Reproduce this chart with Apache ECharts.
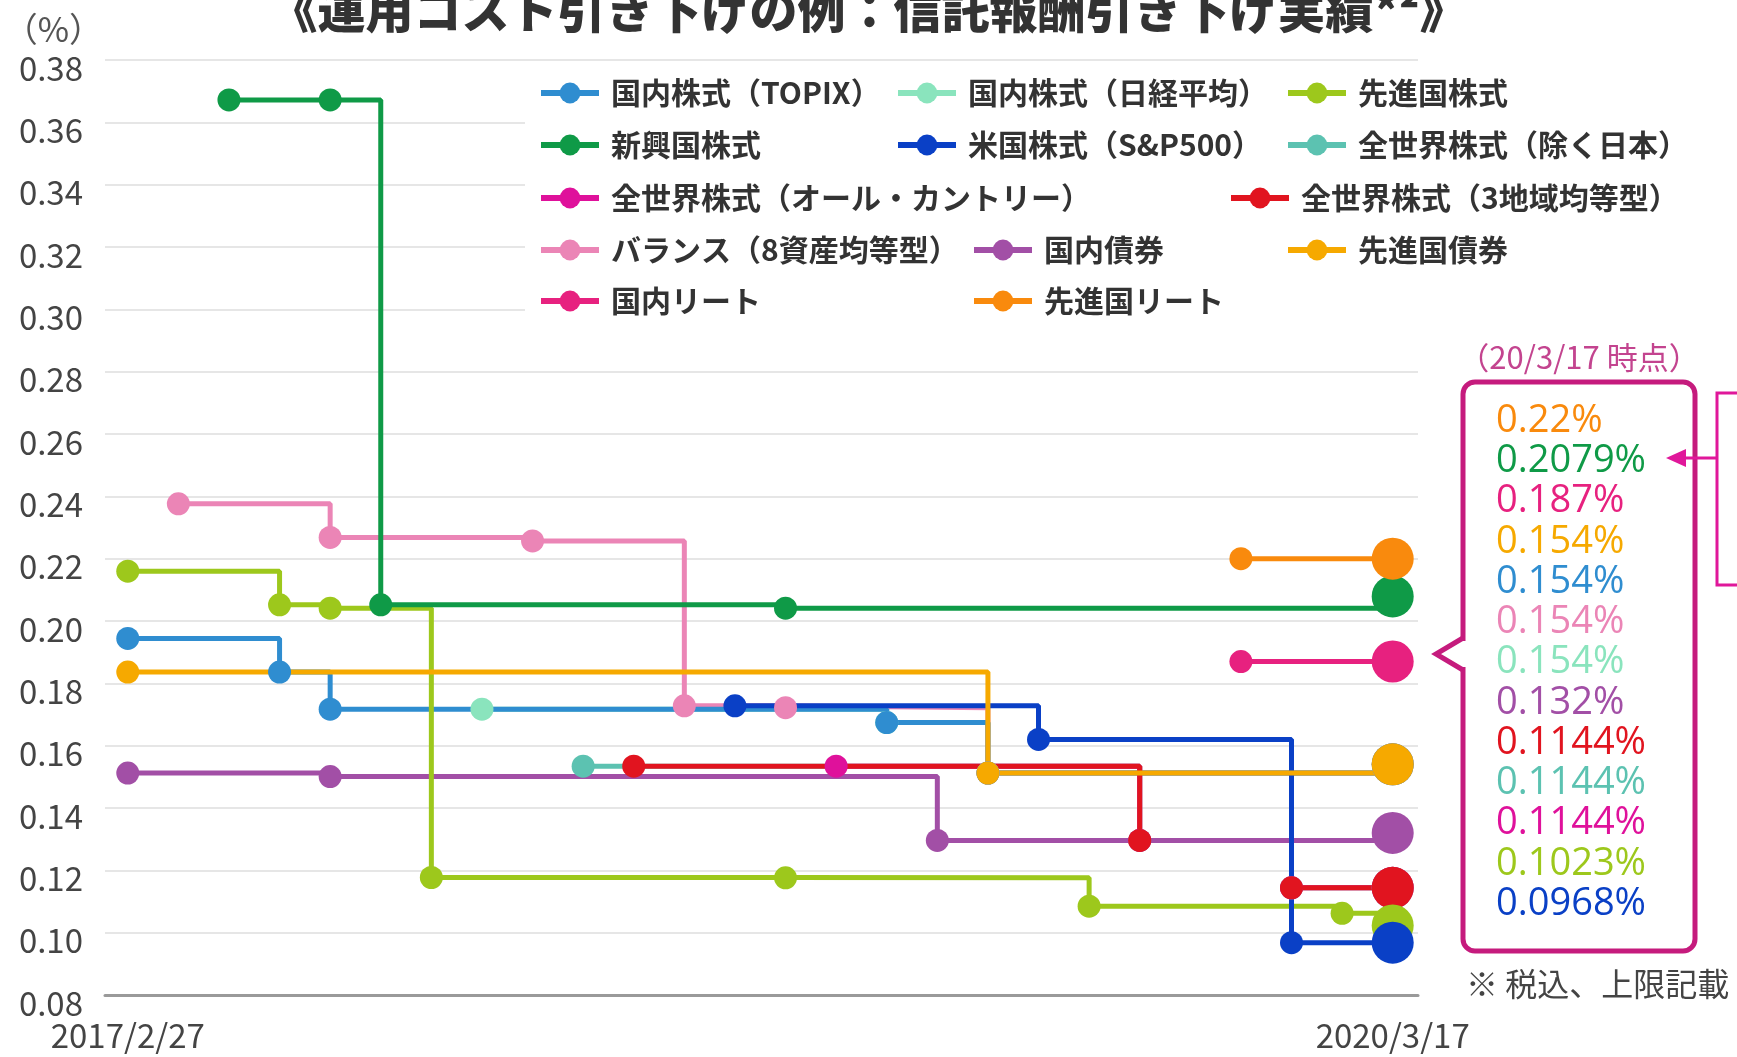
<!DOCTYPE html>
<html>
<head>
<meta charset="utf-8">
<title>信託報酬引き下げ実績</title>
<script src="https://cdn.jsdelivr.net/npm/echarts@6/dist/echarts.min.js"></script>
<style>
html, body { margin: 0; padding: 0; background: #fff; }
#main { width: 1737px; height: 1057px; }
</style>
</head>
<body>
<div id="main"></div>
<script>
// 横軸は引き下げ時点の通し番号 (0 = 2017/2/27 ... 25 = 2020/3/17)
const xTickIndex = [0, 25];
const xTickLabels = ['2017/2/27', '2020/3/17'];

// 各ファンドの信託報酬 (%)  [時点, 値]
const topix = [[0, 0.1944], [3, 0.1836], [4, 0.1717], [15, 0.1674], [17, 0.1512], [25, 0.154]];
const nikkei = [[7, 0.1717], [15, 0.1674], [17, 0.1512], [25, 0.154]];
const devStock = [[0, 0.216], [3, 0.2052], [4, 0.2041], [6, 0.1177], [13, 0.1176], [19, 0.1085], [24, 0.1062], [25, 0.1023]];
const emerging = [[2, 0.3672], [4, 0.3672], [5, 0.2052], [13, 0.2041], [25, 0.2079]];
const sp500 = [[12, 0.1728], [18, 0.162], [23, 0.0968], [25, 0.0968]];
const acwiExJp = [[9, 0.1534], [20, 0.1296], [23, 0.1144], [25, 0.1144]];
const acwi = [[14, 0.1534], [20, 0.1296], [23, 0.1144], [25, 0.1144]];
const threeRegion = [[10, 0.1534], [20, 0.1296], [23, 0.1144], [25, 0.1144]];
const balance = [[1, 0.2376], [4, 0.2268], [8, 0.2257], [11, 0.1728], [13, 0.1722], [17, 0.1512], [25, 0.154]];
const jpBond = [[0, 0.1512], [4, 0.1501], [16, 0.1296], [25, 0.132]];
const devBond = [[0, 0.1836], [17, 0.1512], [25, 0.154]];
const jpReit = [[22, 0.187], [25, 0.187]];
const devReit = [[22, 0.22], [25, 0.22]];

// 描画順 (後ろほど上に重なる)
const seriesDefs = [
    { name: '国内株式（日経平均）', color: '#8ae4bd', data: nikkei },
    { name: 'バランス（8資産均等型）', color: '#eb85b6', data: balance },
    { name: '国内株式（TOPIX）', color: '#2f8dd0', data: topix },
    { name: '全世界株式（除く日本）', color: '#5cc2b1', data: acwiExJp },
    { name: '全世界株式（オール・カントリー）', color: '#df119b', data: acwi },
    { name: '全世界株式（3地域均等型）', color: '#e1141f', data: threeRegion },
    { name: '国内債券', color: '#a24fa6', data: jpBond },
    { name: '先進国株式', color: '#9dc81c', data: devStock },
    { name: '新興国株式', color: '#0f9a47', data: emerging },
    { name: '米国株式（S&P500）', color: '#0a40c6', data: sp500 },
    { name: '先進国債券', color: '#f6a900', data: devBond },
    { name: '国内リート', color: '#e7217f', data: jpReit },
    { name: '先進国リート', color: '#f98a0d', data: devReit }
];

// 凡例の並び [名前, 左, 行の中心]
const legendLayout = [
    ['国内株式（TOPIX）', 538, 93],
    ['国内株式（日経平均）', 895, 93],
    ['先進国株式', 1285, 93],
    ['新興国株式', 538, 145],
    ['米国株式（S&P500）', 895, 145],
    ['全世界株式（除く日本）', 1285, 145],
    ['全世界株式（オール・カントリー）', 538, 198],
    ['全世界株式（3地域均等型）', 1228, 198],
    ['バランス（8資産均等型）', 538, 250],
    ['国内債券', 971, 250],
    ['先進国債券', 1285, 250],
    ['国内リート', 538, 301],
    ['先進国リート', 971, 301]
];

// 右の枠内 (20/3/17 時点) の表示順
const boxOrder = ['先進国リート', '新興国株式', '国内リート', '先進国債券', '国内株式（TOPIX）',
    'バランス（8資産均等型）', '国内株式（日経平均）', '国内債券', '全世界株式（3地域均等型）',
    '全世界株式（除く日本）', '全世界株式（オール・カントリー）', '先進国株式', '米国株式（S&P500）'];

const jpFont = '"Noto Sans CJK JP", "Noto Sans", sans-serif';
const magenta = '#c51b7d';

const chart = echarts.init(document.getElementById('main'));

const series = seriesDefs.map(s => ({
    name: s.name,
    type: 'line',
    step: 'end',
    data: s.data,
    symbol: 'circle',
    symbolSize: (val, p) => p.dataIndex === s.data.length - 1 ? 42 : 23,
    lineStyle: { width: 5, color: s.color },
    itemStyle: { color: s.color },
    emphasis: { disabled: true },
    silent: true
}));

const legends = legendLayout.map(l => ({
    data: [l[0]],
    left: l[1],
    top: l[2] - 15,
    padding: 0,
    itemWidth: 58,
    itemHeight: 26,
    selectedMode: false,
    lineStyle: { width: 6 },
    textStyle: { fontFamily: jpFont, fontSize: 30, fontWeight: 'bold', color: '#333', lineHeight: 30, padding: [0, 0, 0, 7] }
}));

const colorOf = {};
const lastOf = {};
seriesDefs.forEach(s => {
    colorOf[s.name] = s.color;
    lastOf[s.name] = s.data[s.data.length - 1][1];
});

const boxTexts = boxOrder.map((name, i) => ({
    type: 'text',
    x: 1496,
    y: 421 + i * 40.25,
    z: 12,
    silent: true,
    style: {
        text: String(lastOf[name]) + '%',
        fill: colorOf[name],
        fontSize: 38,
        fontFamily: '"Open Sans", sans-serif',
        verticalAlign: 'middle',
        textVerticalAlign: 'middle'
    }
}));

const option = {
    animation: false,
    backgroundColor: '#fff',
    title: {
        text: '《運用コスト引き下げの例：信託報酬引き下げ実績*²》',
        left: 'center',
        top: -14,
        padding: 0,
        textStyle: { fontFamily: jpFont, fontSize: 48, fontWeight: 900, color: '#333', lineHeight: 48 }
    },
    legend: legends,
    grid: { left: 105, right: 319, top: 60, bottom: 62, outerBoundsMode: 'none' },
    xAxis: {
        type: 'value',
        min: -0.45,
        max: 25.5,
        splitLine: { show: false },
        axisTick: { show: false },
        axisLine: { lineStyle: { color: '#9a9a9a', width: 3 } },
        axisLabel: {
            customValues: xTickIndex,
            formatter: v => xTickLabels[xTickIndex.indexOf(v)] || '',
            fontFamily: jpFont,
            fontSize: 33,
            color: '#444',
            margin: 24
        }
    },
    yAxis: {
        type: 'value',
        min: 0.08,
        max: 0.38,
        interval: 0.02,
        name: '（%）',
        nameLocation: 'end',
        nameGap: 12,
        nameTextStyle: { fontFamily: jpFont, fontSize: 34, color: '#555', align: 'right', lineHeight: 38, padding: [0, 2, 0, 0] },
        axisLine: { show: false, onZero: false },
        axisTick: { show: false },
        splitLine: { lineStyle: { color: '#e6e6e6', width: 2 } },
        axisLabel: {
            formatter: v => v.toFixed(2),
            fontFamily: jpFont,
            fontSize: 33,
            color: '#444',
            margin: 22,
            verticalAlign: 'top',
            lineHeight: 16
        }
    },
    series: series,
    graphic: [
        // 凡例の背景 (目盛線を隠す)
        { type: 'rect', z: 1, silent: true, shape: { x: 525, y: 64, width: 893, height: 262 }, style: { fill: '#fff' } },
        { type: 'rect', z: 10, silent: true, shape: { x: 1463, y: 382, width: 232, height: 569, r: 12 }, style: { fill: '#fff', stroke: magenta, lineWidth: 5 } },
        { type: 'rect', z: 11, silent: true, shape: { x: 1458, y: 641, width: 10, height: 26 }, style: { fill: '#fff' } },
        { type: 'polyline', z: 11, silent: true, shape: { points: [[1463, 638], [1436, 654], [1463, 670]] }, style: { stroke: magenta, lineWidth: 5, fill: null } },
        { type: 'text', z: 12, silent: true, x: 1579, y: 357, style: { text: '（20/3/17 時点）', fill: '#c3448f', fontSize: 31, fontFamily: jpFont, align: 'center', textAlign: 'center', verticalAlign: 'middle', textVerticalAlign: 'middle' } },
        { type: 'text', z: 12, silent: true, x: 1466, y: 984, style: { text: '※ 税込、上限記載', fill: '#444', fontSize: 32, fontFamily: jpFont, verticalAlign: 'middle', textVerticalAlign: 'middle' } },
        { type: 'polyline', z: 12, silent: true, shape: { points: [[1740, 393], [1717, 393], [1717, 585], [1740, 585]] }, style: { stroke: '#e0179a', lineWidth: 3, fill: null } },
        { type: 'polyline', z: 12, silent: true, shape: { points: [[1717, 458], [1682, 458]] }, style: { stroke: '#e0179a', lineWidth: 3, fill: null } },
        { type: 'polygon', z: 12, silent: true, shape: { points: [[1666, 458], [1686, 449], [1686, 467]] }, style: { fill: '#e0179a' } }
    ].concat(boxTexts)
};

chart.setOption(option);
</script>
</body>
</html>
